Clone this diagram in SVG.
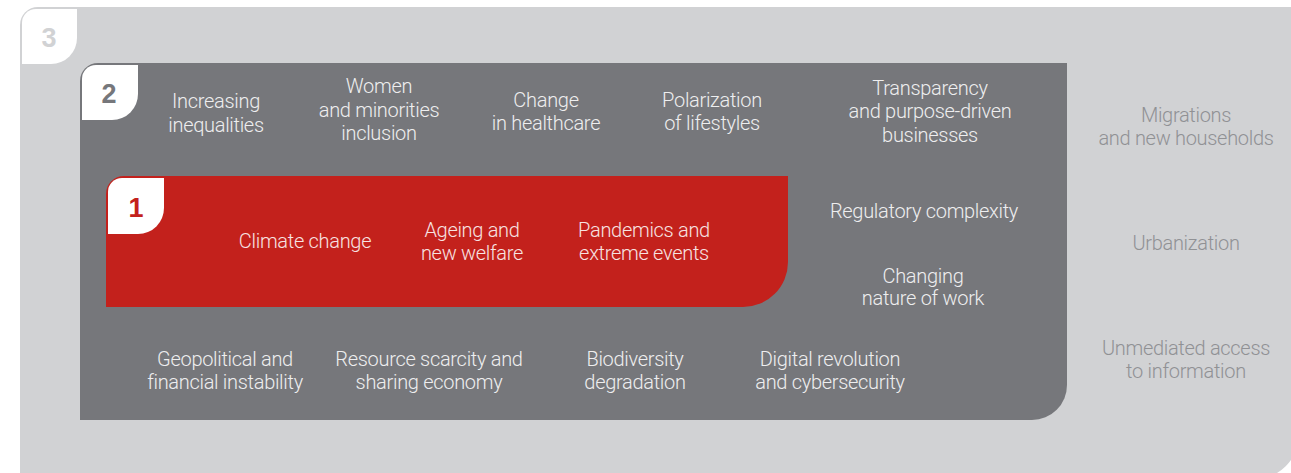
<svg xmlns="http://www.w3.org/2000/svg" width="1291" height="473" viewBox="0 0 1291 473">
  <style>
    .lbl { font-family: Roboto, "Liberation Sans", sans-serif; font-weight: 300; font-size: 20px; letter-spacing: -0.3px; text-anchor: middle; }
    .on-dark { fill: #eeeeef; }
    .on-red { fill: #f7e3e2; }
    .on-light { fill: #909194; }
    .num { font-family: "Liberation Sans", Arial, sans-serif; font-weight: bold; font-size: 27px; text-anchor: middle; }
    .tab { fill: #ffffff; }
  </style>
  <rect width="1291" height="473" fill="#ffffff"/>

  <!-- level 3: outer band -->
  <g id="level3">
    <path d="M20,25 A18,18 0 0 1 38,7 H1300 V432 A48,48 0 0 1 1252,480 H20 Z" fill="#d1d2d4"/>
    <path class="tab" d="M22,23 A14,14 0 0 1 36,9 H77 V38 A26,26 0 0 1 51,64 H22 Z"/>
    <text class="num" x="49" y="47" fill="#d1d2d4">3</text>
    <g class="lbl on-light">
      <text x="1186" y="122">Migrations</text>
      <text x="1186" y="145">and new households</text>
      <text x="1186" y="250">Urbanization</text>
      <text x="1186" y="355">Unmediated access</text>
      <text x="1186" y="378">to information</text>
    </g>
  </g>

  <!-- level 2: middle band -->
  <g id="level2">
    <path d="M80,81 A18,18 0 0 1 98,63 H1067 V385 A35,35 0 0 1 1032,420 H80 Z" fill="#76777b"/>
    <path class="tab" d="M82,79 A14,14 0 0 1 96,65 H138 V94 A26,26 0 0 1 112,120 H82 Z"/>
    <text class="num" x="109" y="103" fill="#76777b">2</text>
    <g class="lbl on-dark">
      <text x="216" y="108">Increasing</text>
      <text x="216" y="132">inequalities</text>
      <text x="379" y="93">Women</text>
      <text x="379" y="117">and minorities</text>
      <text x="379" y="140">inclusion</text>
      <text x="546" y="107">Change</text>
      <text x="546" y="130">in healthcare</text>
      <text x="712" y="107">Polarization</text>
      <text x="712" y="130">of lifestyles</text>
      <text x="930" y="95">Transparency</text>
      <text x="930" y="118">and purpose-driven</text>
      <text x="930" y="142">businesses</text>
      <text x="924" y="218">Regulatory complexity</text>
      <text x="923" y="283">Changing</text>
      <text x="923" y="305">nature of work</text>
      <text x="225" y="366">Geopolitical and</text>
      <text x="225" y="389">financial instability</text>
      <text x="429" y="366">Resource scarcity and</text>
      <text x="429" y="389">sharing economy</text>
      <text x="635" y="366">Biodiversity</text>
      <text x="635" y="389">degradation</text>
      <text x="830" y="366">Digital revolution</text>
      <text x="830" y="389">and cybersecurity</text>
    </g>
  </g>

  <!-- level 1: core band -->
  <g id="level1">
    <path d="M106,194 A18,18 0 0 1 124,176 H788 V262 A45,45 0 0 1 743,307 H106 Z" fill="#c3211c"/>
    <path class="tab" d="M108,192 A14,14 0 0 1 122,178 H164 V208 A26,26 0 0 1 138,234 H108 Z"/>
    <text class="num" x="136" y="217" fill="#c3211c">1</text>
    <g class="lbl on-red">
      <text x="305" y="248">Climate change</text>
      <text x="472" y="237">Ageing and</text>
      <text x="472" y="260">new welfare</text>
      <text x="644" y="237">Pandemics and</text>
      <text x="644" y="260">extreme events</text>
    </g>
  </g>

  <!-- no connectors in this diagram -->
  <g id="connectors"/>
</svg>
